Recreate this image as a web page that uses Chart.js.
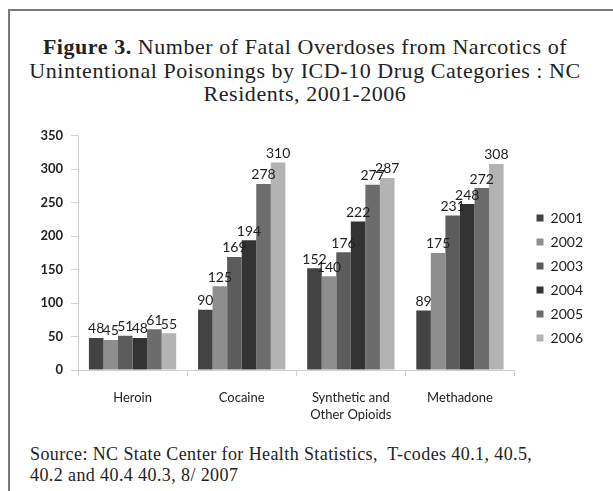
<!DOCTYPE html>
<html>
<head>
<meta charset="utf-8">
<script src="https://cdn.jsdelivr.net/npm/chart.js@4/dist/chart.umd.min.js"></script>
<style>
body { margin: 0; background: #fff; width: 613px; height: 491px; overflow: hidden; position: relative; font-family: "Liberation Serif", serif; color: #222; }
.frame { position: absolute; left: 8px; top: 9px; right: -10px; bottom: -10px; border-top: 2px solid #7a7a7a; border-left: 2px solid #7a7a7a; }
.title { position: absolute; left: 8px; width: 594px; top: 35px; text-align: center; font-size: 22px; line-height: 23.5px; letter-spacing: 0.55px; }
.source { position: absolute; left: 30px; top: 444px; font-size: 18px; line-height: 21px; letter-spacing: 0.4px; }
#wrap { position: absolute; left: 0; top: 120px; width: 613px; height: 311px; }
</style>
</head>
<body>
<div class="frame"></div>
<div class="title"><b>Figure 3.</b> Number of Fatal Overdoses from Narcotics of<br>Unintentional Poisonings by ICD-10 Drug Categories : NC<br>Residents, 2001-2006</div>
<div id="wrap"><canvas id="overdoseChart"></canvas></div>
<div class="source">Source: NC State Center for Health Statistics,&nbsp; T-codes 40.1, 40.5,<br>40.2 and 40.4 40.3, 8/ 2007</div>
<script>
const categories = ['Heroin', 'Cocaine', ['Synthetic and', 'Other Opioids'], 'Methadone'];
const years = ['2001', '2002', '2003', '2004', '2005', '2006'];
const deaths2001 = [48, 90, 152, 89];
const deaths2002 = [45, 125, 140, 175];
const deaths2003 = [51, 169, 176, 231];
const deaths2004 = [48, 194, 222, 248];
const deaths2005 = [61, 278, 277, 272];
const deaths2006 = [55, 310, 287, 308];
const yMax = 350;
const yStep = 50;

const seriesValues = [deaths2001, deaths2002, deaths2003, deaths2004, deaths2005, deaths2006];
const barColors = ['#434343', '#8e8e8e', '#5c5c5c', '#333333', '#6c6c6c', '#b3b3b3'];

// values above each bar, placed from the bar elements themselves
const valueLabels = {
    id: 'valueLabels',
    afterDatasetsDraw(chart) {
        const ctx = chart.ctx;
        ctx.save();
        ctx.font = '14px Lato';
        ctx.fillStyle = '#222';
        ctx.textAlign = 'center';
        ctx.textBaseline = 'bottom';
        chart.data.datasets.forEach((ds, i) => {
            chart.getDatasetMeta(i).data.forEach((bar, j) => {
                ctx.fillText(ds.data[j], bar.x, bar.y - 2);
            });
        });
        ctx.restore();
    }
};

document.addEventListener('DOMContentLoaded', function () {
    const ctx = document.getElementById('overdoseChart').getContext('2d');
    new Chart(ctx, {
        type: 'bar',
        data: {
            labels: categories,
            datasets: years.map((year, i) => ({
                label: year,
                data: seriesValues[i],
                backgroundColor: barColors[i],
                borderWidth: 0,
                categoryPercentage: 0.8,
                barPercentage: 1.0
            }))
        },
        options: {
            responsive: true,
            maintainAspectRatio: false,
            animation: false,
            layout: { padding: { top: 15, bottom: 10, left: 0, right: 20 } },
            plugins: {
                legend: {
                    display: true,
                    position: 'right',
                    labels: {
                        boxWidth: 7,
                        boxHeight: 7,
                        padding: 10,
                        color: '#222',
                        font: { family: 'Lato', size: 14 }
                    }
                },
                tooltip: { enabled: false }
            },
            scales: {
                x: {
                    grid: { drawOnChartArea: false, tickLength: 6, color: '#d0d0d0' },
                    border: { color: '#d0d0d0' },
                    ticks: {
                        color: '#222',
                        padding: 13,
                        maxRotation: 0,
                        font: { family: 'Lato', size: 13, lineHeight: 1.3 }
                    },
                    afterFit(scale) { scale.height = 51; }
                },
                y: {
                    min: 0,
                    max: yMax,
                    grid: { drawOnChartArea: false, tickLength: 7, color: '#d0d0d0' },
                    border: { color: '#d0d0d0' },
                    ticks: {
                        stepSize: yStep,
                        color: '#222',
                        padding: 8,
                        font: { family: 'Lato', size: 13, weight: 'bold' }
                    },
                    afterFit(scale) { scale.width = 78; }
                },
                gap: {
                    position: 'right',
                    grid: { display: false },
                    border: { display: false },
                    ticks: { display: false },
                    afterFit(scale) { scale.width = 12; }
                }
            }
        },
        plugins: [valueLabels]
    });
});
</script>
</body>
</html>
